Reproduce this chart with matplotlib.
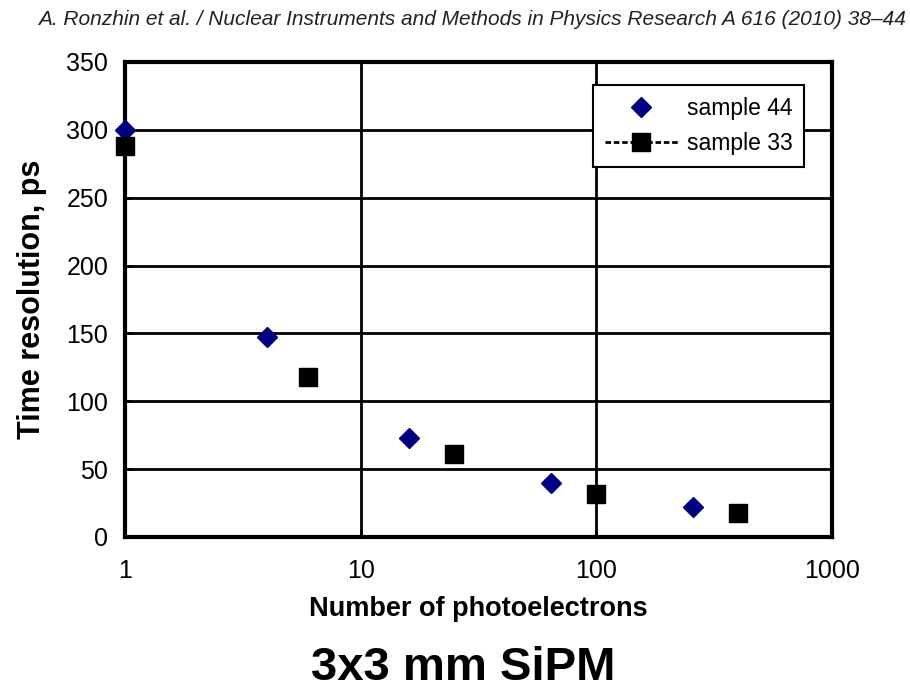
import matplotlib.pyplot as plt
from matplotlib.lines import Line2D

# Daten
npe_44 = [1, 4, 16, 64, 256]
res_44 = [300, 147, 73, 40, 22]

npe_33 = [1, 6, 25, 100, 400]
res_33 = [288, 118, 61, 32, 18]

plt.rcParams['font.family'] = ['Liberation Sans', 'DejaVu Sans']

fig = plt.figure(figsize=(9.1, 6.91), dpi=100)
ax = fig.add_axes([0.1374, 0.2229, 0.7769, 0.6874])

ax.plot(npe_44, res_44, linestyle='none', marker='D', markersize=10,
        color='#000080', clip_on=False, zorder=5)
ax.plot(npe_33, res_33, linestyle='none', marker='s', markersize=13,
        color='black', clip_on=False, zorder=5)

ax.set_xscale('log')
ax.set_xlim(1, 1000)
ax.set_ylim(0, 350)
ax.set_yticks(range(0, 351, 50))
ax.set_xticks([1, 10, 100, 1000])
ax.set_xticklabels(['1', '10', '100', '1000'])
ax.minorticks_off()

ax.grid(True, color='black', linewidth=2)
ax.set_axisbelow(True)
for s in ax.spines.values():
    s.set_linewidth(3)

ax.tick_params(axis='both', labelsize=18, width=2, length=5, direction='in')
ax.tick_params(axis='x', pad=16)
ax.tick_params(axis='y', pad=12)

ax.set_xlabel('Number of photoelectrons', fontsize=19.5, fontweight='bold')
ax.set_ylabel('Time resolution, ps', fontsize=22, fontweight='bold')
ax.xaxis.set_label_coords(0.5, -0.124)
ax.yaxis.set_label_coords(-0.11, 0.5)

handles = [
    Line2D([], [], linestyle='none', marker='D', markersize=10, color='#000080'),
    Line2D([], [], linestyle=(0, (2, 1)), linewidth=2, marker='s', markersize=13, color='black'),
]
leg = ax.legend(handles, ['sample 44', 'sample 33'], loc='upper right',
                bbox_to_anchor=(0.961, 0.951), fontsize=16.5, fancybox=False,
                framealpha=1, edgecolor='black', borderpad=0.5, handlelength=3.2,
                handletextpad=0.4, labelspacing=0.55, borderaxespad=0)
leg.get_frame().set_linewidth(1.5)

fig.text(0.995, 0.972, 'A. Ronzhin et al. / Nuclear Instruments and Methods in Physics Research A 616 (2010) 38–44',
         ha='right', va='center', fontsize=15, style='italic',
         family=['Liberation Sans Narrow', 'Liberation Sans'], color='#222222')
fig.text(0.509, 0.033, '3x3 mm SiPM', ha='center', va='center', fontsize=34, fontweight='bold')

fig.savefig('out.png', dpi=100)
